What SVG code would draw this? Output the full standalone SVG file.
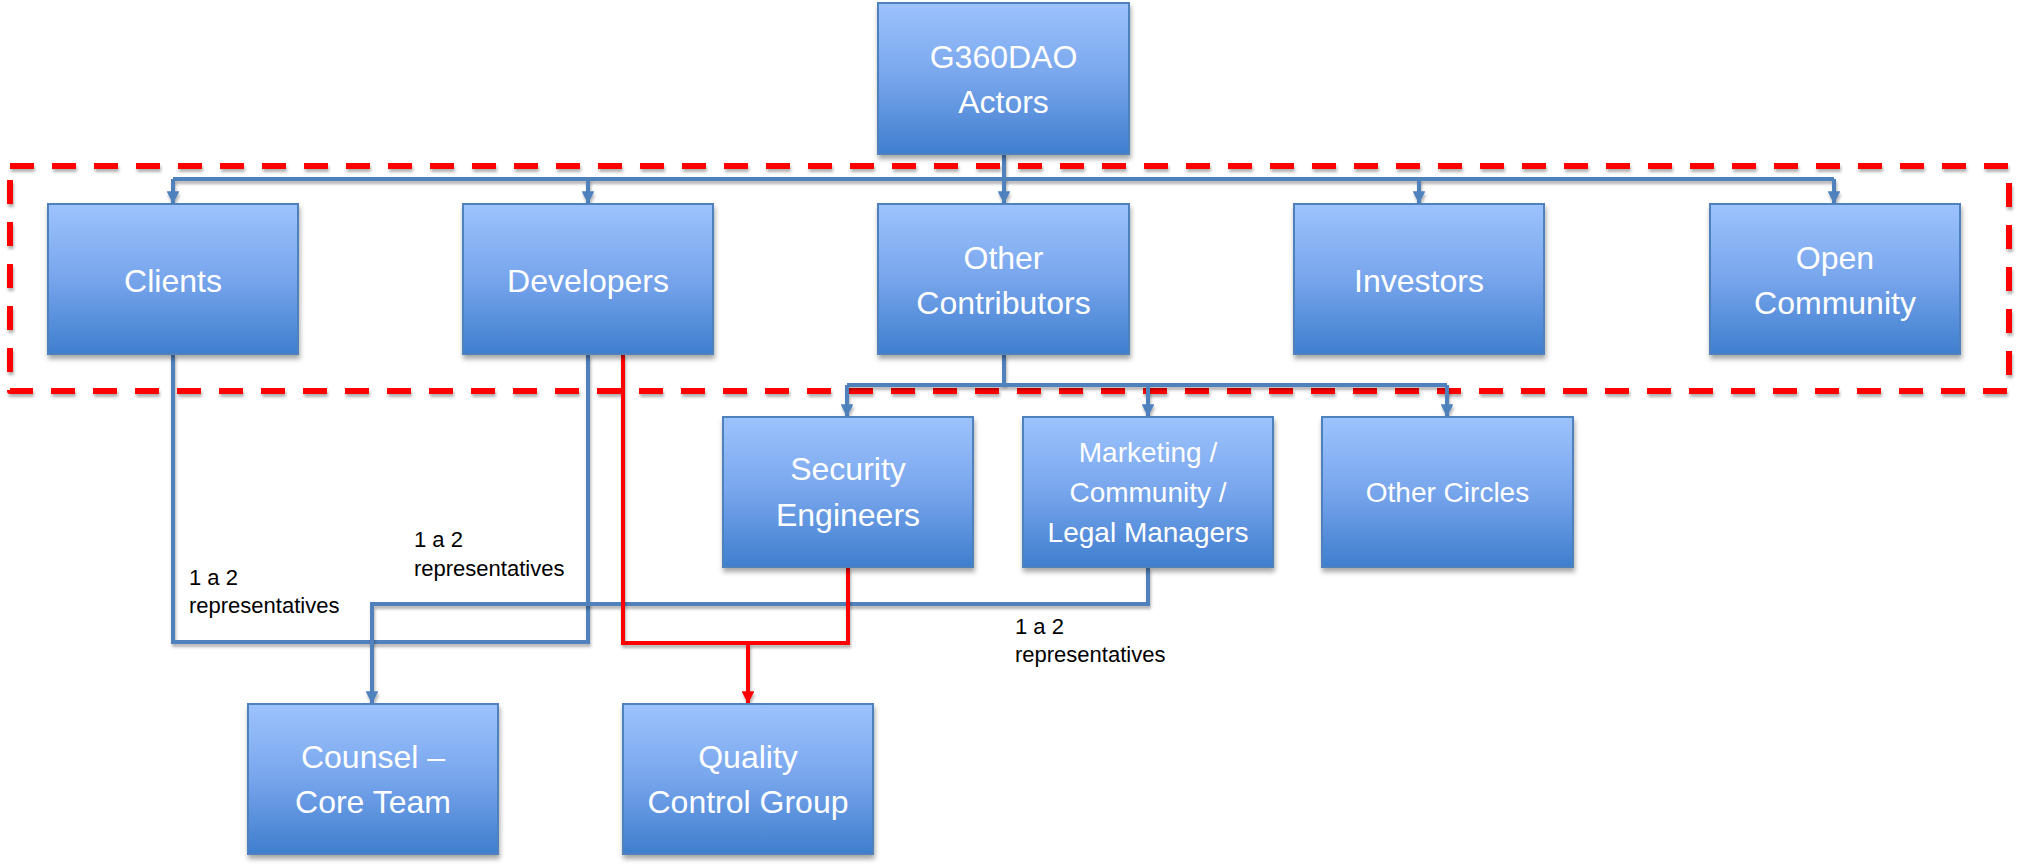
<svg xmlns="http://www.w3.org/2000/svg" width="2020" height="866" viewBox="0 0 2020 866">
<defs>
<linearGradient id="g" x1="0" y1="0" x2="0" y2="1">
<stop offset="0" stop-color="#9DC3FD"/>
<stop offset="0.5" stop-color="#77A5EC"/>
<stop offset="1" stop-color="#3F7ECE"/>
</linearGradient>
<filter id="sh" x="-10%" y="-10%" width="130%" height="140%">
<feDropShadow dx="1" dy="4" stdDeviation="2.5" flood-color="#000" flood-opacity="0.35"/>
</filter>
<filter id="lsh" filterUnits="userSpaceOnUse" x="0" y="0" width="2020" height="866">
<feDropShadow dx="1" dy="3" stdDeviation="1.5" flood-color="#000" flood-opacity="0.3"/>
</filter>
<marker id="ab" viewBox="0 0 10 10" refX="10" refY="5" markerWidth="3.2" markerHeight="3.2" orient="auto" markerUnits="strokeWidth">
<path d="M0,0 L10,5 L0,10 z" fill="#4F81BD"/>
</marker>
<marker id="ar" viewBox="0 0 10 10" refX="10" refY="5" markerWidth="3.2" markerHeight="3.2" orient="auto" markerUnits="strokeWidth">
<path d="M0,0 L10,5 L0,10 z" fill="#FF0000"/>
</marker>
</defs>
<style>
.box{fill:url(#g);stroke:#4F81BD;stroke-width:2;filter:url(#sh)}
.t{font-family:"Liberation Sans",Arial,sans-serif;font-size:32px;fill:#fff;text-anchor:middle}
.ts{font-family:"Liberation Sans",Arial,sans-serif;font-size:28px;fill:#fff;text-anchor:middle}
.lbl{font-family:"Liberation Sans",Arial,sans-serif;font-size:22px;fill:#000}
.cb{fill:none;stroke:#4F81BD;stroke-width:4;filter:url(#lsh)}
.cr{fill:none;stroke:#FF0000;stroke-width:4;filter:url(#lsh)}
.dash{fill:none;stroke:#FF0000;stroke-width:6;stroke-dasharray:24 18;stroke-linejoin:round;filter:url(#lsh)}
</style>
<rect class="dash" x="10" y="166" width="1999" height="225"/>
<g id="connectors">
<path class="cb" d="M1004,154 V179"/>
<path class="cb" d="M173,179 H1834"/>
<path class="cb" d="M173,179 V204" marker-end="url(#ab)"/>
<path class="cb" d="M588,179 V204" marker-end="url(#ab)"/>
<path class="cb" d="M1004,179 V204" marker-end="url(#ab)"/>
<path class="cb" d="M1419,179 V204" marker-end="url(#ab)"/>
<path class="cb" d="M1834,179 V204" marker-end="url(#ab)"/>
<path class="cb" d="M1004,354 V385"/>
<path class="cb" d="M847,385 H1447"/>
<path class="cb" d="M847,385 V417" marker-end="url(#ab)"/>
<path class="cb" d="M1148,385 V417" marker-end="url(#ab)"/>
<path class="cb" d="M1447,385 V417" marker-end="url(#ab)"/>
<path class="cb" d="M173,354 V642 H588 V354"/>
<path class="cb" d="M1148,567 V604 H372 V704" marker-end="url(#ab)"/>
<path class="cr" d="M623,354 V643 H848 V567"/>
<path class="cr" d="M748,643 V704" marker-end="url(#ar)"/>
</g>
<g id="g360dao"><rect class="box" x="878" y="3" width="251" height="151"/><text class="t" x="1003.5" y="68">G360DAO</text><text class="t" x="1003.5" y="113">Actors</text></g>
<g id="clients"><rect class="box" x="48" y="204" width="250" height="150"/><text class="t" x="173" y="292">Clients</text></g>
<g id="developers"><rect class="box" x="463" y="204" width="250" height="150"/><text class="t" x="588" y="292">Developers</text></g>
<g id="other-contributors"><rect class="box" x="878" y="204" width="251" height="150"/><text class="t" x="1003.5" y="269">Other</text><text class="t" x="1003.5" y="314">Contributors</text></g>
<g id="investors"><rect class="box" x="1294" y="204" width="250" height="150"/><text class="t" x="1419" y="292">Investors</text></g>
<g id="open-community"><rect class="box" x="1710" y="204" width="250" height="150"/><text class="t" x="1835" y="269">Open</text><text class="t" x="1835" y="314">Community</text></g>
<g id="security-engineers"><rect class="box" x="723" y="417" width="250" height="150"/><text class="t" x="848" y="480">Security</text><text class="t" x="848" y="526">Engineers</text></g>
<g id="marketing"><rect class="box" x="1023" y="417" width="250" height="150"/><text class="ts" x="1148" y="462">Marketing /</text><text class="ts" x="1148" y="502">Community /</text><text class="ts" x="1148" y="542">Legal Managers</text></g>
<g id="other-circles"><rect class="box" x="1322" y="417" width="251" height="150"/><text class="ts" x="1447.5" y="502">Other Circles</text></g>
<g id="counsel"><rect class="box" x="248" y="704" width="250" height="150"/><text class="t" x="373" y="768">Counsel –</text><text class="t" x="373" y="813">Core Team</text></g>
<g id="quality"><rect class="box" x="623" y="704" width="250" height="150"/><text class="t" x="748" y="768">Quality</text><text class="t" x="748" y="813">Control Group</text></g>
<g id="labels">
<text class="lbl" x="189" y="585">1 a 2</text><text class="lbl" x="189" y="613">representatives</text>
<text class="lbl" x="414" y="547">1 a 2</text><text class="lbl" x="414" y="576">representatives</text>
<text class="lbl" x="1015" y="634">1 a 2</text><text class="lbl" x="1015" y="662">representatives</text>
</g>
</svg>
